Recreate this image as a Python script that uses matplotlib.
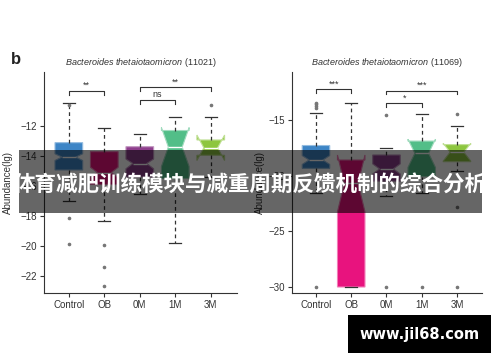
import matplotlib
matplotlib.use("Agg")
import matplotlib.pyplot as plt
from matplotlib.patches import Rectangle
from matplotlib.colors import to_rgb

plt.rcParams['font.family'] = ['Liberation Sans', 'DejaVu Sans']
plt.rcParams['mathtext.fontset'] = 'custom'
plt.rcParams['mathtext.it'] = 'Liberation Sans:italic'
plt.rcParams['mathtext.rm'] = 'Liberation Sans'

# ---------------- data ----------------
groups = ["Control", "OB", "0M", "1M", "3M"]
colors = ["#3D85C6", "#E8137E", "#8E3E8C", "#52BE88", "#8DC63F"]

titles = ["(11021)", "(11069)"]

# panel 1 (11021) box statistics
p1_whislo = [-17.0, -18.33, -16.5, -19.78, -15.4]
p1_q1     = [-14.93, -15.9, -15.4, -15.5, -13.95]
p1_cilo   = [-14.3, -15.45, -14.85, -14.7, -14.3]
p1_med    = [-14.07, -15.1, -14.5, -13.4, -13.45]
p1_cihi   = [-13.85, -14.75, -14.2, -12.1, -12.6]
p1_q3     = [-13.11, -13.71, -13.38, -12.3, -12.93]
p1_whishi = [-10.49, -12.16, -12.56, -11.38, -11.42]
p1_fliers = [[-10.6, -18.13, -19.87], [-19.95, -21.42, -22.67], [], [], [-10.6]]

# panel 2 (11069) box statistics
p2_whislo = [-21.6, -30.0, -21.8, -21.6, -19.55]
p2_q1     = [-19.35, -30.0, -20.5, -20.1, -18.75]
p2_cilo   = [-19.0, -23.25, -19.85, -19.27, -18.7]
p2_med    = [-18.6, -20.7, -19.4, -18.0, -17.9]
p2_cihi   = [-18.2, -18.15, -18.95, -16.73, -17.1]
p2_q3     = [-17.3, -18.6, -18.15, -16.9, -17.22]
p2_whishi = [-14.35, -13.5, -17.5, -14.49, -15.54]
p2_fliers = [[-13.45, -13.6, -13.75, -13.9, -30.0], [], [-14.55, -30.0],
             [-30.0], [-14.5, -22.8, -30.0]]

# significance brackets: (group a, group b, y level, label)
p1_sig = [(0, 1, -9.65, "**"), (2, 4, -9.4, "**"), (2, 3, -10.27, "ns")]
p2_sig = [(0, 1, -12.24, "***"), (2, 4, -12.37, "***"), (2, 3, -13.5, "*")]

p1_yticks = [-22, -20, -18, -16, -14, -12]
p2_yticks = [-30, -25, -20, -15]

banner_text = "体育减肥训练模块与减重周期反馈机制的综合分析"
watermark_text = "www.jil68.com"

# ---------------- figure ----------------
W, H = 500, 362
fig = plt.figure(figsize=(W / 100, H / 100), dpi=100)


def fx(px):
    return px / W


def fy(py):
    return 1 - py / H


def lighten(c, f=0.45):
    r, g, b = to_rgb(c)
    return (r + (1 - r) * f, g + (1 - g) * f, b + (1 - b) * f)


def panel(rect, whislo, q1, cilo, med, cihi, q3, whishi, fliers, sig,
          yticks, ylim, xlim, title, ticklen):
    ax = fig.add_axes(rect)
    stats = []
    for i in range(len(groups)):
        stats.append(dict(whislo=whislo[i], q1=q1[i], cilo=cilo[i], med=med[i],
                          cihi=cihi[i], q3=q3[i], whishi=whishi[i],
                          fliers=fliers[i], label=groups[i]))
    pos = list(range(1, len(groups) + 1))
    bp = ax.bxp(stats, positions=pos, widths=0.78, patch_artist=True,
                shownotches=True, showfliers=True, capwidths=0.34,
                whiskerprops=dict(color="#333333", lw=0.9, linestyle=(0, (3, 2.5))),
                capprops=dict(color="#333333", lw=0.9),
                medianprops=dict(color="white", lw=1.0),
                flierprops=dict(marker="o", markersize=1.6, markerfacecolor="#777777",
                                markeredgecolor="#777777", linestyle="none"))
    for patch, c in zip(bp["boxes"], colors):
        patch.set_facecolor(c)
        patch.set_edgecolor(lighten(c))
        patch.set_linewidth(0.8)
    for a, b, y, lab in sig:
        xa, xb = pos[a], pos[b]
        ax.plot([xa, xa, xb, xb], [y - ticklen, y, y, y - ticklen],
                color="#333333", lw=0.8, clip_on=False)
        ax.text((xa + xb) / 2, y + ticklen * 0.15, lab, ha="center", va="bottom",
                fontsize=6.5, color="#333333")
    ax.set_xlim(*xlim)
    ax.set_ylim(*ylim)
    ax.set_xticks(pos)
    ax.set_xticklabels(groups)
    ax.set_yticks(yticks)
    for s in ["top", "right"]:
        ax.spines[s].set_visible(False)
    for s in ["left", "bottom"]:
        ax.spines[s].set_color("#333333")
        ax.spines[s].set_linewidth(0.8)
    ax.tick_params(axis="both", labelsize=7, length=3, width=0.8,
                   color="#333333", labelcolor="#333333", pad=2)
    ax.set_ylabel("Abundance(lg)", fontsize=7, color="#333333")
    ax.text(0.5, 1.041, r"$\mathit{Bacteroides\ thetaiotaomicron}$ " + title,
            transform=ax.transAxes, ha="center", va="center", fontsize=6.5,
            color="#333333")
    return ax


ax1 = panel([fx(44), fy(293), fx(237 - 44), (293 - 72) / H],
            p1_whislo, p1_q1, p1_cilo, p1_med, p1_cihi, p1_q3, p1_whishi, p1_fliers,
            p1_sig, p1_yticks, (-23.13, -8.4), (0.3, 5.74), titles[0], 0.29)
ax1.yaxis.set_label_coords((13 - 44) / 193, 0.5)

ax2 = panel([fx(292), fy(293), fx(482 - 292), (293 - 72) / H],
            p2_whislo, p2_q1, p2_cilo, p2_med, p2_cihi, p2_q3, p2_whishi, p2_fliers,
            p2_sig, p2_yticks, (-30.54, -10.7), (0.32, 5.71), titles[1], 0.34)
ax2.yaxis.set_label_coords((265 - 292) / 190, 0.5)

fig.text(fx(16), fy(60), "b", fontsize=12, fontweight="bold", ha="center",
         va="center", color="#222222")

# overlay banner
fig.patches.append(Rectangle((fx(19), fy(213)), fx(482 - 19), (213 - 150) / H,
                             transform=fig.transFigure, facecolor="black",
                             alpha=0.6, edgecolor="none", zorder=5))
fig.text(fx(250.5), fy(184), banner_text, fontsize=15.5, fontweight="bold",
         color="white", ha="center", va="center", zorder=6,
         family=["Noto Sans CJK SC", "DejaVu Sans"])

# watermark
fig.patches.append(Rectangle((fx(348), fy(353)), fx(143), 38 / H,
                             transform=fig.transFigure, facecolor="black",
                             edgecolor="none", zorder=5))
fig.text(fx(419.5), fy(335), watermark_text, fontsize=10.5, fontweight="bold",
         color="white", ha="center", va="center", zorder=6, family="DejaVu Sans")

fig.savefig("out.png", dpi=100)
